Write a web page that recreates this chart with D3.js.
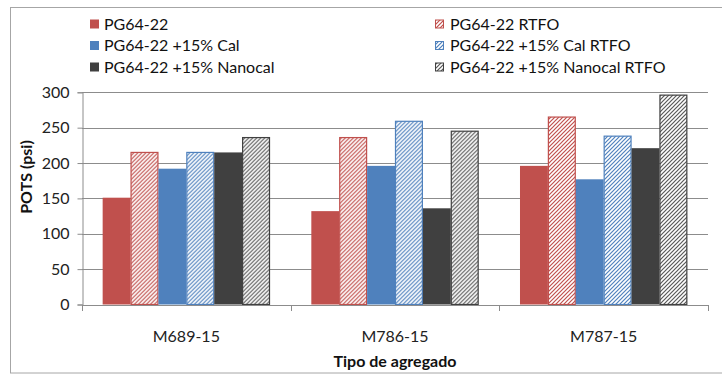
<!DOCTYPE html>
<html>
<head>
<meta charset="utf-8">
<script src="https://cdn.jsdelivr.net/npm/d3@7/dist/d3.min.js"></script>
<style>
  html, body { margin: 0; padding: 0; background: #fff; }
  svg { display: block; font-family: Lato, "Open Sans", sans-serif; }
</style>
</head>
<body>
<svg id="chart" width="722" height="374"></svg>
<script>
// Aggregate types on the x axis
const categories = ["M689-15", "M786-15", "M787-15"];

// Series names (legend order)
const seriesNames = [
  "PG64-22",
  "PG64-22 RTFO",
  "PG64-22 +15% Cal",
  "PG64-22 +15% Cal RTFO",
  "PG64-22 +15% Nanocal",
  "PG64-22 +15% Nanocal RTFO"
];

// POTS (psi) for each series, one value per aggregate type
const pg6422          = [151, 132, 196];
const pg6422Rtfo      = [215, 236, 265];
const cal             = [192, 196, 177];
const calRtfo         = [215, 259, 238];
const nanocal         = [215, 136, 221];
const nanocalRtfo     = [236, 245, 296];

const yTicks = [0, 50, 100, 150, 200, 250, 300];

const seriesValues = [pg6422, pg6422Rtfo, cal, calRtfo, nanocal, nanocalRtfo];
const seriesColors = ["#C0504D", "#C0504D", "#4F81BD", "#4F81BD", "#404040", "#404040"];
const seriesHatched = [false, true, false, true, false, true];

const svg = d3.select("#chart");

// Outer chart frame
svg.append("rect")
  .attr("x", 10.5).attr("y", 7.5)
  .attr("width", 730).attr("height", 365.5)
  .attr("fill", "none").attr("stroke", "#a6a6a6").attr("stroke-width", 1);

// Diagonal hatch patterns for the RTFO series
const defs = svg.append("defs");
seriesNames.forEach((name, i) => {
  if (!seriesHatched[i]) return;
  const p = defs.append("pattern")
    .attr("id", "hatch" + i)
    .attr("patternUnits", "userSpaceOnUse")
    .attr("width", 4).attr("height", 4);
  p.append("rect").attr("width", 4).attr("height", 4).attr("fill", "#fff");
  p.append("path")
    .attr("d", "M-1,1 l2,-2 M0,4 l4,-4 M3,5 l2,-2")
    .attr("stroke", i === 5 ? "#595959" : seriesColors[i])
    .attr("stroke-width", 1.2);
});

const fillFor = i => seriesHatched[i] ? `url(#hatch${i})` : seriesColors[i];

// Plot area
const plot = { left: 82, right: 708, top: 92.3, bottom: 304.5 };

const x = d3.scaleBand()
  .domain(categories)
  .range([plot.left, plot.right])
  .paddingInner(0.198)
  .paddingOuter(0.099);

const xInner = d3.scaleBand()
  .domain(d3.range(seriesNames.length))
  .range([0, x.bandwidth()])
  .padding(0);

const y = d3.scaleLinear()
  .domain([0, 300])
  .range([plot.bottom, plot.top]);

// Horizontal gridlines
svg.append("g")
  .selectAll("line")
  .data(yTicks.filter(t => t > 0))
  .join("line")
  .attr("x1", plot.left).attr("x2", plot.right)
  .attr("y1", d => Math.round(y(d)) + 0.5).attr("y2", d => Math.round(y(d)) + 0.5)
  .attr("stroke", "#8c8c8c").attr("stroke-width", 1);

// Bars
const groups = svg.append("g")
  .selectAll("g")
  .data(categories)
  .join("g")
  .attr("transform", d => `translate(${x(d)},0)`);

groups.selectAll("rect")
  .data((c, ci) => seriesValues.map((vals, si) => ({ si, v: vals[ci] })))
  .join("rect")
  .attr("x", d => xInner(d.si) + (seriesHatched[d.si] ? 0.5 : 0))
  .attr("width", d => xInner.bandwidth() - (seriesHatched[d.si] ? 1 : 0))
  .attr("y", d => y(d.v))
  .attr("height", d => y(0) - y(d.v))
  .attr("fill", d => fillFor(d.si))
  .attr("stroke", d => seriesHatched[d.si] ? seriesColors[d.si] : "none")
  .attr("stroke-width", 1.2);

// Y axis
const yAxis = svg.append("g")
  .attr("transform", `translate(${plot.left + 0.5},0)`)
  .call(d3.axisLeft(y).tickValues(yTicks).tickSize(5).tickPadding(8));
yAxis.select(".domain").attr("stroke", "#8c8c8c");
yAxis.selectAll(".tick line").attr("stroke", "#8c8c8c");
yAxis.selectAll(".tick text")
  .attr("font-size", 16).attr("fill", "#222").attr("font-family", "Lato");

// X axis with ticks between categories
const boundaries = [plot.left, ...categories.slice(1).map(c => x(c) - x.step() * x.paddingInner() / 2), plot.right];
const xAxisG = svg.append("g");
xAxisG.append("line")
  .attr("x1", plot.left).attr("x2", plot.right)
  .attr("y1", Math.round(plot.bottom) + 0.5).attr("y2", Math.round(plot.bottom) + 0.5)
  .attr("stroke", "#8c8c8c");
xAxisG.selectAll("line.tk")
  .data(boundaries)
  .join("line")
  .attr("class", "tk")
  .attr("x1", d => Math.round(d) + 0.5).attr("x2", d => Math.round(d) + 0.5)
  .attr("y1", Math.round(plot.bottom)).attr("y2", Math.round(plot.bottom) + 6)
  .attr("stroke", "#8c8c8c");
xAxisG.selectAll("text")
  .data(categories)
  .join("text")
  .attr("x", d => x(d) + x.bandwidth() / 2)
  .attr("y", 342)
  .attr("text-anchor", "middle")
  .attr("font-size", 16).attr("fill", "#222")
  .text(d => d);

// Axis titles
svg.append("text")
  .attr("x", 395).attr("y", 366.5)
  .attr("text-anchor", "middle")
  .attr("font-size", 16).attr("font-weight", "bold").attr("fill", "#111")
  .text("Tipo de agregado");

svg.append("text")
  .attr("transform", "translate(32,177) rotate(-90)")
  .attr("text-anchor", "middle")
  .attr("font-size", 16).attr("font-weight", "bold").attr("fill", "#111")
  .text("POTS (psi)");

// Legend: two columns, three rows
const legendCols = [{ sx: 90, tx: 104 }, { sx: 435, tx: 450 }];
const legendRows = [29.5, 51, 72.5];
const legend = svg.append("g");
seriesNames.forEach((name, i) => {
  const col = legendCols[i % 2];
  const row = legendRows[Math.floor(i / 2)];
  const item = legend.append("g");
  if (seriesHatched[i]) {
    item.append("rect")
      .attr("x", col.sx + 0.5).attr("y", row - 10 + 0.5)
      .attr("width", 8).attr("height", 8)
      .attr("fill", fillFor(i))
      .attr("stroke", seriesColors[i]).attr("stroke-width", 1);
  } else {
    item.append("rect")
      .attr("x", col.sx).attr("y", row - 10)
      .attr("width", 9).attr("height", 9)
      .attr("fill", seriesColors[i]);
  }
  item.append("text")
    .attr("x", col.tx).attr("y", row)
    .attr("font-size", 16).attr("fill", "#111")
    .text(name);
});
</script>
</body>
</html>
